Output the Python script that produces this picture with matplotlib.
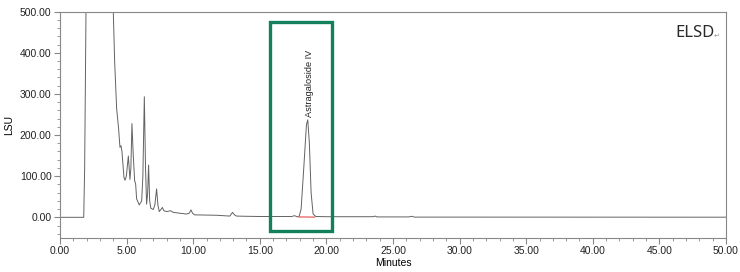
import numpy as np
import matplotlib
matplotlib.use('Agg')
import matplotlib.pyplot as plt
from matplotlib.patches import Rectangle
from matplotlib.ticker import MultipleLocator, FormatStrFormatter

## Chromatogram trace (minutes, LSU)
time_min = [0.0, 1.78, 1.85, 1.95, 2.05, 3.9, 4.0, 4.1, 4.25, 4.4, 4.5, 4.58, 4.65,
            4.8, 4.88, 4.98, 5.13, 5.25, 5.32, 5.4, 5.5, 5.6, 5.68, 5.75, 5.95,
            6.13, 6.22, 6.33, 6.42, 6.5, 6.58, 6.65, 6.73, 6.82, 7.0, 7.12, 7.25,
            7.35, 7.45, 7.6, 7.68, 7.8, 8.0, 8.3, 8.5, 8.75, 9.5, 9.7, 9.83, 9.95,
            10.1, 11.75, 12.75, 12.95, 13.1, 13.25, 14.0, 15.0, 17.4, 17.6, 17.8,
            17.95, 18.1, 18.3, 18.5, 18.6, 18.72, 18.85, 19.0, 19.2, 20.0, 22.0,
            23.5, 23.65, 23.8, 26.2, 26.4, 26.6, 30.0, 50.0]
lsu = [0.0, 0.0, 120.0, 500.0, 1000.0, 1000.0, 500.0, 380.0, 265.0, 215.0, 170.0, 174.0, 160.0,
       97.0, 90.0, 100.0, 149.0, 92.0, 120.0, 228.0, 150.0, 90.0, 80.0, 45.0, 30.0,
       40.0, 100.0, 293.0, 120.0, 32.0, 60.0, 127.0, 40.0, 22.0, 19.0, 30.0, 69.0,
       30.0, 14.0, 20.0, 24.0, 16.0, 14.0, 16.0, 12.0, 11.0, 8.0, 10.0, 18.0, 10.0,
       6.0, 5.0, 3.0, 12.0, 6.0, 3.0, 2.5, 2.0, 2.0, 4.0, 1.5,
       2.0, 20.0, 120.0, 225.0, 237.0, 180.0, 60.0, 8.0, 2.0, 1.5, 1.5,
       1.5, 3.0, 1.0, 1.0, 2.5, 0.5, 0.5, 0.3]

# integration baseline under the Astragaloside IV peak
base_t = [17.9, 19.1]
base_v = [1.0, 0.5]

# highlighted window and peak label
box_t = [15.77, 20.4]
box_v = [-32.6, 474.0]
peak_name = 'Astragaloside IV'
peak_t = 18.72
peak_v = 243.0

fig = plt.figure(figsize=(7.4, 2.72), dpi=100)
ax = fig.add_axes([0.0811, 0.1254, 0.9, 0.832])

ax.plot(time_min, lsu, color='#626262', lw=0.7)
ax.plot(base_t, base_v, color='#e87070', lw=1.0)

ax.add_patch(Rectangle((box_t[0], box_v[0]), box_t[1] - box_t[0], box_v[1] - box_v[0],
                       fill=False, edgecolor='#12805c', lw=2.4, zorder=5))

ax.text(peak_t, peak_v, peak_name, rotation=90, ha='center', va='bottom',
        fontsize=6.6, family=['Liberation Sans Narrow', 'Liberation Sans'], color='#222222')

ax.text(0.983, 0.905, 'ELSD', transform=ax.transAxes, ha='right', va='center',
        fontsize=12, family=['Noto Sans', 'DejaVu Sans'], color='#2a2a2a')
ax.text(0.99, 0.895, '\u21b5', transform=ax.transAxes, ha='right', va='center',
        fontsize=5, family='DejaVu Sans', color='#999999')

ax.set_xlim(0, 50)
ax.set_ylim(-50, 500)
ax.xaxis.set_major_locator(MultipleLocator(5))
ax.xaxis.set_minor_locator(MultipleLocator(1))
ax.yaxis.set_major_locator(MultipleLocator(100))
ax.yaxis.set_minor_locator(MultipleLocator(20))
ax.xaxis.set_major_formatter(FormatStrFormatter('%.2f'))
ax.yaxis.set_major_formatter(FormatStrFormatter('%.2f'))

for s in ax.spines.values():
    s.set_color('#888888')
    s.set_linewidth(0.8)
ax.tick_params(which='major', length=4, width=0.8, color='#888888', labelsize=7.5, pad=2)
ax.tick_params(which='minor', length=2.5, width=0.6, color='#888888')
for lab in ax.get_xticklabels() + ax.get_yticklabels():
    lab.set_family('Liberation Sans')
    lab.set_color('#222222')

ax.set_xlabel('Minutes', fontsize=7.5, family='Liberation Sans', labelpad=1)
ax.set_ylabel('LSU', fontsize=7.5, family='Liberation Sans', labelpad=4)

fig.savefig('out.png', dpi=100)
